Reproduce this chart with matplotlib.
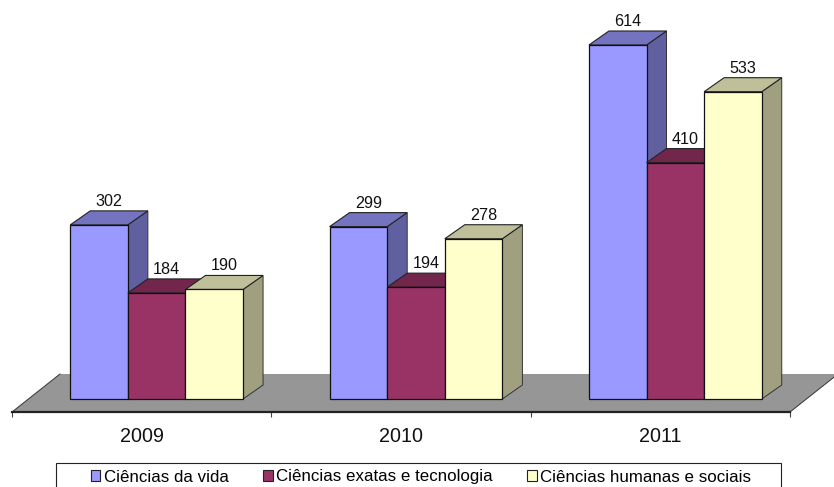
import matplotlib
matplotlib.use("Agg")
import matplotlib.pyplot as plt
from matplotlib.patches import Polygon, Patch, Rectangle

plt.rcParams['font.family'] = ['Liberation Sans', 'DejaVu Sans']

years = ["2009", "2010", "2011"]
series = ["Ciências da vida", "Ciências exatas e tecnologia", "Ciências humanas e sociais"]
vida = [302, 299, 614]
exatas = [184, 194, 410]
humanas = [190, 278, 533]

front = ["#9999FF", "#993366", "#FFFFCC"]
top = ["#7373BF", "#73264C", "#BFBF99"]
side = ["#6060A0", "#602040", "#A0A080"]

W, H = 834, 487
fig = plt.figure(figsize=(W/100, H/100), dpi=100)
ax = fig.add_axes([12/W, (H-412)/H, 778/W, 412/H])

px_x = 778/3      # pixels per category
px_y = 354/614    # pixels per value unit
ax.set_xlim(-0.5, 2.5)
ax.set_ylim(-13/px_y, 399/px_y)

bar_w = 57.6/px_x
shift = 15/px_x
dx = 20/px_x
dy = 14/px_y


def box(x0, v, c_front, c_top, c_side, z):
    x1 = x0 + bar_w
    ax.add_patch(Polygon([(x1, 0), (x1+dx, dy), (x1+dx, v+dy), (x1, v)], fc=c_side, ec="#333333", lw=0.7, zorder=z))
    ax.add_patch(Polygon([(x0, v), (x0+dx, v+dy), (x1+dx, v+dy), (x1, v)], fc=c_top, ec="#222222", lw=0.8, zorder=z))
    ax.add_patch(Polygon([(x0, 0), (x1, 0), (x1, v), (x0, v)], fc=c_front, ec="#111111", lw=0.9, zorder=z+0.1))


# floor
floor_dx = 48/px_x
floor_dy = 38/px_y
y0 = ax.get_ylim()[0]
ax.add_patch(Polygon([(-0.5, y0), (2.5, y0), (2.5+floor_dx, y0+floor_dy), (-0.5+floor_dx, y0+floor_dy)],
                     fc="#969696", ec="none", clip_on=False, zorder=1))
ax.plot([-0.5, -0.5+floor_dx], [y0, y0+floor_dy], color="#333333", lw=0.7, clip_on=False, zorder=1.5)
ax.plot([2.5, 2.5+floor_dx], [y0, y0+floor_dy], color="#333333", lw=0.7, clip_on=False, zorder=1.5)

for i in range(len(years)):
    for j, vals in enumerate([vida, exatas, humanas]):
        x0 = i + shift + (j-1.5)*bar_w
        box(x0, vals[i], front[j], top[j], side[j], 2+i+j*0.2)
        ax.annotate(str(vals[i]), (x0+bar_w/2+dx/2, vals[i]+dy), xytext=(0, 1.5), textcoords="offset points",
                    ha="center", va="bottom", fontsize=11.6, color="#111111", zorder=10, annotation_clip=False)

for s in ["top", "left", "right"]:
    ax.spines[s].set_visible(False)
ax.spines["bottom"].set_linewidth(1.6)
ax.spines["bottom"].set_color("#222222")
ax.spines["bottom"].set_zorder(6)
ax.patch.set_alpha(0)
ax.set_yticks([])
ax.set_xticks(range(3))
ax.set_xticklabels(years, fontsize=14.2, color="#111111")
ax.tick_params(axis="x", which="major", length=0, pad=10.5)
ax.set_xticks([-0.5, 0.5, 1.5, 2.5], minor=True)
ax.tick_params(axis="x", which="minor", length=3.5, width=0.8, color="#444444")

# legend box runs past the bottom of the image
fig.add_artist(Rectangle((56/W, -0.05), 725/W, (H-463)/H+0.05, transform=fig.transFigure,
                         fc="white", ec="#222222", lw=0.8))
handles = [Patch(fc=front[k], ec="#222222", lw=0.8) for k in range(3)]
leg = fig.legend(handles, series, ncol=3, loc="center left", bbox_to_anchor=(91/W, (H-477)/H),
                 bbox_transform=fig.transFigure, borderaxespad=0, borderpad=0, fontsize=12.2, frameon=False,
                 handlelength=0.55, handleheight=0.55, handletextpad=0.2, columnspacing=2.05)

fig.savefig("out.png", dpi=100)
